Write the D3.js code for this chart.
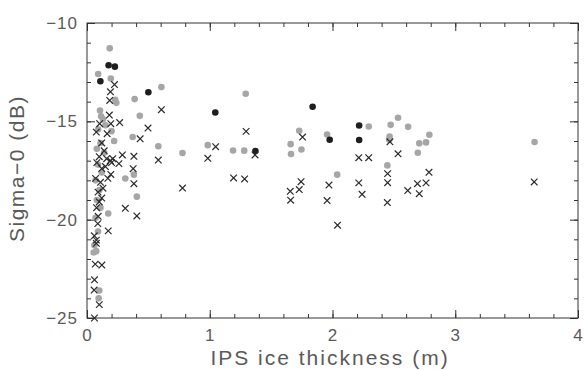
<!DOCTYPE html>
<html>
<head>
<meta charset="utf-8">
<script src="https://cdn.jsdelivr.net/npm/d3@7"></script>
<style>
  body { margin: 0; background: #fff; }
  text { font-family: "Liberation Sans", Arial, sans-serif; fill: #5a5a5a; }
</style>
</head>
<body>
<script>
// gray dots [thickness m, sigma0 dB]
var grayPts = [
  [0.185, -11.29], [0.091, -12.59], [0.194, -12.82], [0.606, -13.26], [1.293, -13.60],
  [0.388, -13.87], [0.23, -13.9], [0.239, -14.06], [0.106, -14.45], [0.43, -14.72],
  [0.115, -14.74], [0.13, -14.9], [0.15, -15.2], [0.09, -15.4], [0.2, -15.5],
  [0.372, -15.80], [0.221, -16.0], [0.11, -16.1], [0.08, -16.4], [0.14, -16.6],
  [0.581, -16.27], [0.984, -16.21], [0.778, -16.61], [1.19, -16.48], [1.281, -16.49],
  [1.729, -15.48], [1.659, -16.16], [1.662, -16.66], [1.747, -16.43], [1.956, -15.67],
  [2.038, -17.71], [2.295, -15.26], [2.474, -15.18], [2.534, -14.82], [2.616, -15.28],
  [2.465, -15.78], [2.462, -15.94], [2.447, -17.24], [2.707, -16.12], [2.695, -16.60],
  [2.762, -16.07], [2.789, -15.68], [3.646, -16.05],
  [0.312, -17.91], [0.382, -17.71], [0.406, -18.83], [0.173, -19.69],
  [0.09, -17.2], [0.12, -17.6], [0.07, -18.0], [0.1, -18.5], [0.08, -19.0],
  [0.11, -19.4], [0.07, -19.9], [0.09, -20.6], [0.06, -21.3],
  [0.055, -21.67], [0.075, -21.6], [0.1, -23.6], [0.095, -24.0]
];
var blackPts = [
  [0.109, -12.96], [0.176, -12.15], [0.227, -12.22], [0.50, -13.52], [1.045, -14.55],
  [1.372, -16.51], [1.838, -14.26], [1.977, -15.94], [2.217, -15.21], [2.217, -15.95]
];
var crossPts = [
  [0.224, -13.13], [0.191, -13.5], [0.185, -13.94], [0.182, -14.68], [0.606, -14.41],
  [0.497, -15.34], [0.433, -15.89], [0.266, -15.06], [0.164, -15.63], [0.103, -15.12],
  [0.076, -15.55], [0.194, -15.12], [1.296, -15.51], [1.048, -16.29], [0.984, -16.88],
  [0.581, -16.97], [0.382, -16.78], [0.376, -17.41], [0.382, -18.17], [0.288, -16.71],
  [0.26, -17.15], [1.194, -17.88], [1.284, -17.93], [1.369, -16.71], [0.778, -18.39],
  [0.312, -19.42], [0.406, -19.81], [0.173, -20.57], [1.756, -15.80], [2.468, -16.04],
  [2.534, -16.65], [2.214, -16.85], [2.295, -16.85], [2.449, -17.66], [2.449, -18.12],
  [2.786, -17.59], [2.762, -18.13], [2.692, -18.17], [2.707, -18.68], [2.613, -18.52],
  [2.447, -19.13], [2.241, -18.71], [2.214, -18.13], [1.971, -18.24], [1.956, -19.03],
  [2.041, -20.28], [1.744, -18.07], [1.729, -18.47], [1.656, -18.56], [1.659, -19.01],
  [3.643, -18.08], [0.194, -17.7],
  [0.12, -16.1], [0.14, -16.5], [0.1, -16.8], [0.16, -16.9], [0.21, -16.9],
  [0.08, -17.1], [0.12, -17.4], [0.15, -17.3], [0.07, -17.9], [0.11, -18.1],
  [0.13, -18.4], [0.09, -18.6], [0.12, -18.9], [0.1, -19.1], [0.17, -17.9],
  [0.19, -17.0], [0.2, -17.1],
  [0.067, -22.26], [0.121, -22.31], [0.061, -23.06], [0.058, -23.58], [0.1, -24.32],
  [0.061, -25.0], [0.06, -20.82], [0.076, -21.04], [0.076, -21.2], [0.088, -20.2],
  [0.091, -19.83], [0.078, -19.39]
];
var xTicks = [0, 1, 2, 3, 4];
var yTicks = [-25, -20, -15, -10];

var margin = { top: 23, right: 6, bottom: 52, left: 87 },
    width = 584 - margin.left - margin.right,
    height = 370 - margin.top - margin.bottom;

var svg = d3.select('body').append('svg')
    .attr('width', 584).attr('height', 370);
var g = svg.append('g')
    .attr('transform', 'translate(' + margin.left + ',' + margin.top + ')');

var x = d3.scaleLinear().domain([0, 4]).range([0, width]);
var y = d3.scaleLinear().domain([-25, -10]).range([height, 0]);

var minus = function(v) { return String(v).replace('-', '\u2212'); };

// inward ticks on every side, majors longer
function ticks(axisFn, scale, major, minor, tf) {
  var a = g.append('g').attr('transform', tf || null);
  a.call(axisFn(scale).tickValues(minor).tickSize(-4).tickFormat(''));
  a.select('.domain').remove();
  var b = g.append('g').attr('transform', tf || null);
  b.call(axisFn(scale).tickValues(major).tickSize(-8).tickFormat(''));
  b.select('.domain').remove();
  g.selectAll('.tick line').attr('stroke', '#333');
}
var xMinor = d3.range(0, 4.01, 0.2), yMinor = d3.range(-25, -9.99, 1);
ticks(d3.axisBottom, x, xTicks, xMinor, 'translate(0,' + height + ')');
ticks(d3.axisTop, x, xTicks, xMinor);
ticks(d3.axisLeft, y, yTicks, yMinor);
ticks(d3.axisRight, y, yTicks, yMinor, 'translate(' + width + ',0)');

g.append('rect').attr('width', width).attr('height', height)
    .attr('fill', 'none').attr('stroke', '#333').attr('stroke-width', 1);

// tick labels
g.selectAll('.xl').data(xTicks).enter().append('text')
    .attr('x', function(d) { return x(d); }).attr('y', height + 23)
    .attr('text-anchor', 'middle').style('font-size', '17px')
    .text(function(d) { return d; });
g.selectAll('.yl').data(yTicks).enter().append('text')
    .attr('x', -9).attr('y', function(d) { return y(d) + 6; })
    .attr('text-anchor', 'end').style('font-size', '17px')
    .style('letter-spacing', '1px')
    .text(minus);

// titles
g.append('text').attr('x', x(1.98)).attr('y', height + 47)
    .attr('text-anchor', 'middle').style('font-size', '21px')
    .style('letter-spacing', '2px')
    .text('IPS ice thickness (m)');
g.append('text')
    .attr('transform', 'translate(' + (-63) + ',' + y(-17.4) + ') rotate(-90)')
    .attr('text-anchor', 'middle').style('font-size', '21px')
    .style('letter-spacing', '1.5px')
    .text('Sigma\u22120 (dB)');

// marks
g.selectAll('.gd').data(grayPts).enter().append('circle')
    .attr('cx', function(d) { return x(d[0]); })
    .attr('cy', function(d) { return y(d[1]); })
    .attr('r', 3.3).attr('fill', '#a6a6a6');
g.selectAll('.bd').data(blackPts).enter().append('circle')
    .attr('cx', function(d) { return x(d[0]); })
    .attr('cy', function(d) { return y(d[1]); })
    .attr('r', 3.3).attr('fill', '#1e1e1e');
var s = 3.3;
g.selectAll('.cx').data(crossPts).enter().append('path')
    .attr('d', function(d) {
      var cx = x(d[0]), cy = y(d[1]);
      return 'M' + (cx - s) + ',' + (cy - s) + 'L' + (cx + s) + ',' + (cy + s) +
             'M' + (cx - s) + ',' + (cy + s) + 'L' + (cx + s) + ',' + (cy - s);
    })
    .attr('stroke', '#2a2a2a').attr('stroke-width', 1.2).attr('fill', 'none');
</script>
</body>
</html>
